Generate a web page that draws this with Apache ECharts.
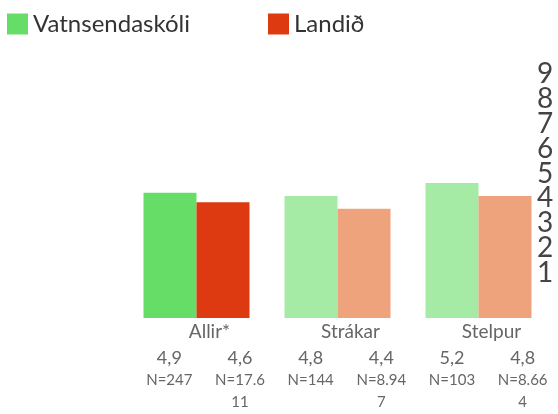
<!DOCTYPE html>
<html>
<head>
<meta charset="utf-8">
<script src="https://cdn.jsdelivr.net/npm/echarts@6/dist/echarts.min.js"></script>
<style>
  html, body { margin: 0; padding: 0; background: #fff; }
  #chart { width: 558px; height: 414px; }
</style>
</head>
<body>
<div id="chart"></div>
<script>
var categories = ['Allir*', 'Strákar', 'Stelpur'];
var seriesNames = ['Vatnsendaskóli', 'Landið'];
var schoolValues = [4.9, 4.8, 5.2];
var countryValues = [4.6, 4.4, 4.8];
var schoolN = [247, 144, 103];
var countryN = [17611, 8947, 8664];
var yTicks = [1, 2, 3, 4, 5, 6, 7, 8, 9];

var schoolColors = ['#66dd66', '#a5eaa5', '#a5eaa5'];
var countryColors = ['#dd3a12', '#efa37d', '#efa37d'];

var font = 'Lato, "Open Sans", sans-serif';

function fmtVal(v) { return v.toFixed(1).replace('.', ','); }
function fmtN(n) { return 'N=' + String(n).replace(/\B(?=(\d{3})+(?!\d))/g, '.'); }

// break a string into lines no wider than maxW at the given font
var ctx = document.createElement('canvas').getContext('2d');
function wrap(str, size, maxW) {
  ctx.font = size + 'px ' + font;
  var lines = [], cur = '';
  for (var i = 0; i < str.length; i++) {
    if (cur && ctx.measureText(cur + str[i]).width > maxW) {
      lines.push(cur);
      cur = '';
    }
    cur += str[i];
  }
  lines.push(cur);
  return lines;
}

// six label slots: school, country for each category
var slotVals = [], slotN = [];
categories.forEach(function (c, i) {
  slotVals.push(schoolValues[i], countryValues[i]);
  slotN.push(schoolN[i], countryN[i]);
});
var slotKeys = slotVals.map(function (v, i) { return String(i); });

var chart = echarts.init(document.getElementById('chart'));

chart.setOption({
  animation: false,
  textStyle: { fontFamily: font },
  legend: {
    left: 7,
    top: 12,
    padding: 0,
    itemWidth: 21,
    itemHeight: 21,
    itemGap: 78,
    icon: 'rect',
    textStyle: { fontSize: 24, color: '#333', fontFamily: font },
    data: seriesNames
  },
  grid: [
    { left: 126, right: 9, top: 61, bottom: 96 },
    { left: 126, right: 24, top: 49, bottom: 116 },
    { left: 134, width: 432, top: 60, bottom: 69 }
  ],
  xAxis: [
    {
      gridIndex: 0,
      type: 'category',
      data: categories,
      axisLine: { show: false },
      axisTick: { show: false },
      axisLabel: { fontSize: 19, color: '#666', margin: 4, padding: [0, 0, 0, 26] }
    },
    { gridIndex: 1, type: 'category', data: [''], show: false },
    {
      gridIndex: 2,
      type: 'category',
      data: slotKeys,
      axisLine: { show: false },
      axisTick: { show: false },
      axisLabel: {
        margin: 2,
        interval: 0,
        color: '#666',
        formatter: function (k) {
          var i = +k;
          var nLines = wrap(fmtN(slotN[i]), 15, 54);
          return '{v|' + fmtVal(slotVals[i]) + '}\n' +
            nLines.map(function (s) { return '{n|' + s + '}'; }).join('\n');
        },
        rich: {
          v: { fontSize: 18, color: '#666', lineHeight: 22, fontFamily: font },
          n: { fontSize: 15, color: '#666', lineHeight: 22, fontFamily: font }
        }
      }
    }
  ],
  yAxis: [
    { gridIndex: 0, type: 'value', min: 1, max: 9, show: false },
    {
      gridIndex: 1,
      type: 'value',
      position: 'right',
      min: 0,
      max: 10,
      interval: 1,
      axisLine: { show: false },
      axisTick: { show: false },
      splitLine: { show: false },
      axisLabel: {
        fontSize: 28,
        lineHeight: 20,
        color: '#444',
        margin: 3,
        showMaxLabel: false,
        showMinLabel: false,
        formatter: function (v) { return yTicks.indexOf(v) >= 0 ? String(v) : ''; }
      }
    },
    { gridIndex: 2, type: 'value', show: false }
  ],
  series: [
    {
      name: seriesNames[0],
      type: 'bar',
      xAxisIndex: 0,
      yAxisIndex: 0,
      barWidth: 53,
      barGap: '0%',
      itemStyle: { color: schoolColors[0] },
      data: schoolValues.map(function (v, i) {
        return { value: v, itemStyle: { color: schoolColors[i] } };
      })
    },
    {
      name: seriesNames[1],
      type: 'bar',
      xAxisIndex: 0,
      yAxisIndex: 0,
      barWidth: 53,
      barGap: '0%',
      itemStyle: { color: countryColors[0] },
      data: countryValues.map(function (v, i) {
        return { value: v, itemStyle: { color: countryColors[i] } };
      })
    }
  ]
});
</script>
</body>
</html>
